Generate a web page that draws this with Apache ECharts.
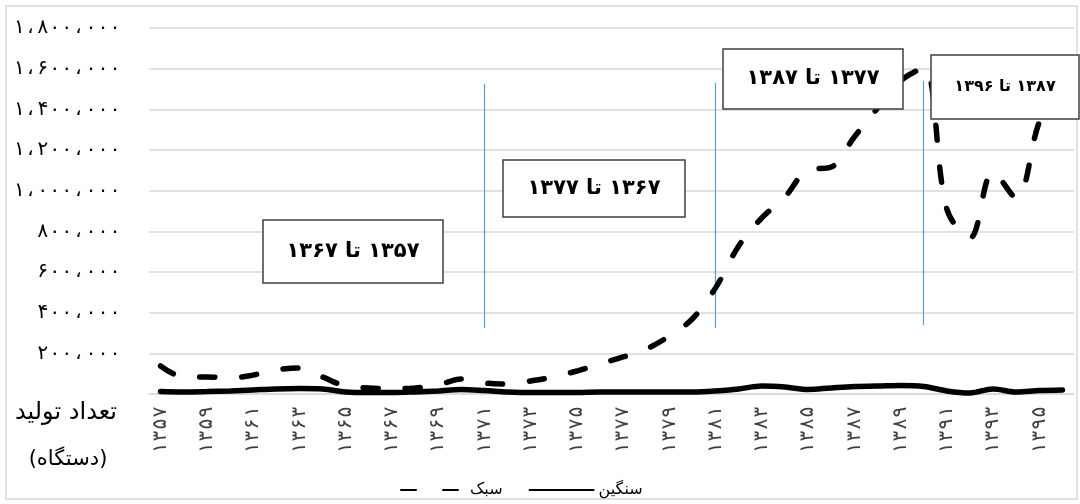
<!DOCTYPE html>
<html><head><meta charset="utf-8">
<script src="https://cdn.jsdelivr.net/npm/echarts@6/dist/echarts.min.js"></script>
<style>html,body{margin:0;padding:0;background:#fff}#c{width:1080px;height:504px}</style>
</head><body><div id="c"></div>
<script>
// Years (categories)
const years = [1357,1358,1359,1360,1361,1362,1363,1364,1365,1366,1367,1368,1369,1370,
  1371,1372,1373,1374,1375,1376,1377,1378,1379,1380,1381,1382,1383,1384,1385,1386,
  1387,1388,1389,1390,1391,1392,1393,1394,1395,1396];
// سبک (light) – dashed
const lightValues = [138000,84000,84000,79000,93000,118000,128000,84000,39000,30000,
  25000,30000,44000,74000,54000,49000,64000,84000,113000,148000,
  182000,221000,285000,370000,522000,728000,866000,969000,1102000,1116000,
  1264000,1405000,1540000,1603000,910000,767000,1092000,964000,1338000,1550000];
// سنگین (heavy) – solid
const heavyValues = [12000,10000,12000,15000,20000,25000,27000,25000,10000,7000,
  7000,10000,15000,22000,17000,10000,7000,7000,7000,10000,
  10000,10000,10000,10000,15000,25000,39000,34000,22000,30000,
  37000,39000,42000,37000,15000,5000,25000,10000,17000,20000];
const seriesNames = ['سبک','سنگین'];
// period separators (year, from, to)
const periodLines = [[1371,325000,1525000],[1381,325000,1530000],[1390,339000,1540000]];
const periodLabels = ['۱۳۵۷ تا ۱۳۶۷','۱۳۶۷ تا ۱۳۷۷','۱۳۷۷ تا ۱۳۸۷','۱۳۸۷ تا ۱۳۹۶'];
const yTitle = ['تعداد تولید','(دستگاه)'];

const FA = '۰۱۲۳۴۵۶۷۸۹';
const fa = s => String(s).replace(/\d/g, d => FA[d]);
const faNum = n => fa(Number(n).toLocaleString('en-US')).replace(/,/g,'،');
const rtl = s => '\u202B' + s + '\u202C';
const FONT = '"DejaVu Sans", sans-serif';
const MONO = '"DejaVu Sans Mono", "DejaVu Sans", monospace';

const chart = echarts.init(document.getElementById('c'), null, {renderer:'canvas'});

function box(x,y,w,h,text,size,weight){
  return {
    type:'group', z:100,
    children:[
      {type:'rect', shape:{x:x,y:y,width:w,height:h}, style:{fill:'#fff', stroke:'#404040', lineWidth:1.5}, z:100},
      {type:'text', x:x+w/2, y:y+h/2, z:101, style:{text:rtl(text), fill:'#000', font:weight+' '+size+'px '+FONT, align:'center', verticalAlign:'middle'}}
    ]
  };
}

chart.setOption({
  animation:false,
  backgroundColor:'#fff',
  grid:{left:149, right:6, top:28, bottom:110, containLabel:false},
  legend:{
    data:seriesNames, left:395, top:477, itemWidth:64, itemHeight:12, itemGap:26,
    itemStyle:{opacity:0},
    textStyle:{fontFamily:FONT, fontSize:16, color:'#000'}
  },
  xAxis:{
    type:'category', data:years, boundaryGap:true,
    axisLine:{show:true, lineStyle:{color:'#d9d9d9', width:1.5}},
    axisTick:{show:false},
    axisLabel:{interval:1, rotate:90, margin:12, fontFamily:MONO, fontSize:20, color:'#404040',
      formatter:v => fa(v)}
  },
  yAxis:{
    type:'value', min:0, max:1800000, interval:200000,
    axisLine:{show:false}, axisTick:{show:false},
    splitLine:{lineStyle:{color:'#d9d9d9', width:1.5}},
    axisLabel:{margin:28, fontFamily:MONO, fontSize:20, color:'#000',
      formatter:v => v === 0 ? '' : faNum(v)}
  },
  series:[
    {
      name:seriesNames[0], type:'line', data:lightValues, smooth:0.35,
      symbol:'none', z:3,
      lineStyle:{color:'#000', width:5.5, type:[15,27], cap:'round'},
      itemStyle:{color:'#000'},
      markLine:{
        silent:true, symbol:'none', label:{show:false}, z:1,
        lineStyle:{color:'#5b9bd5', width:1.2, type:'solid', opacity:1},
        emphasis:{disabled:true},
        data: periodLines.map(p => [
          {coord:[years.indexOf(p[0]), p[1]]},
          {coord:[years.indexOf(p[0]), p[2]]}
        ])
      }
    },
    {
      name:seriesNames[1], type:'line', data:heavyValues, smooth:0.35,
      symbol:'none', z:3,
      lineStyle:{color:'#000', width:5.5, type:'solid', cap:'round'},
      itemStyle:{color:'#000'}
    }
  ],
  graphic:[
    {type:'rect', shape:{x:6,y:6,width:1071,height:493}, style:{fill:'none', stroke:'#d9d9d9', lineWidth:1.5}, z:0, silent:true},
    box(263,220,180,63,periodLabels[0],21,'bold'),
    box(503,160,182,57,periodLabels[1],21,'bold'),
    box(723,49,180,60,periodLabels[2],21,'bold'),
    box(931,55,148,64,periodLabels[3],16,'bold'),
    {type:'text', x:66, y:413, style:{text:rtl(yTitle[0]), fill:'#000', font:'24px '+FONT, align:'center', verticalAlign:'middle'}},
    {type:'text', x:68, y:460, style:{text:rtl(yTitle[1]), fill:'#000', font:'21px '+FONT, align:'center', verticalAlign:'middle'}}
  ]
});
</script>
</body></html>
